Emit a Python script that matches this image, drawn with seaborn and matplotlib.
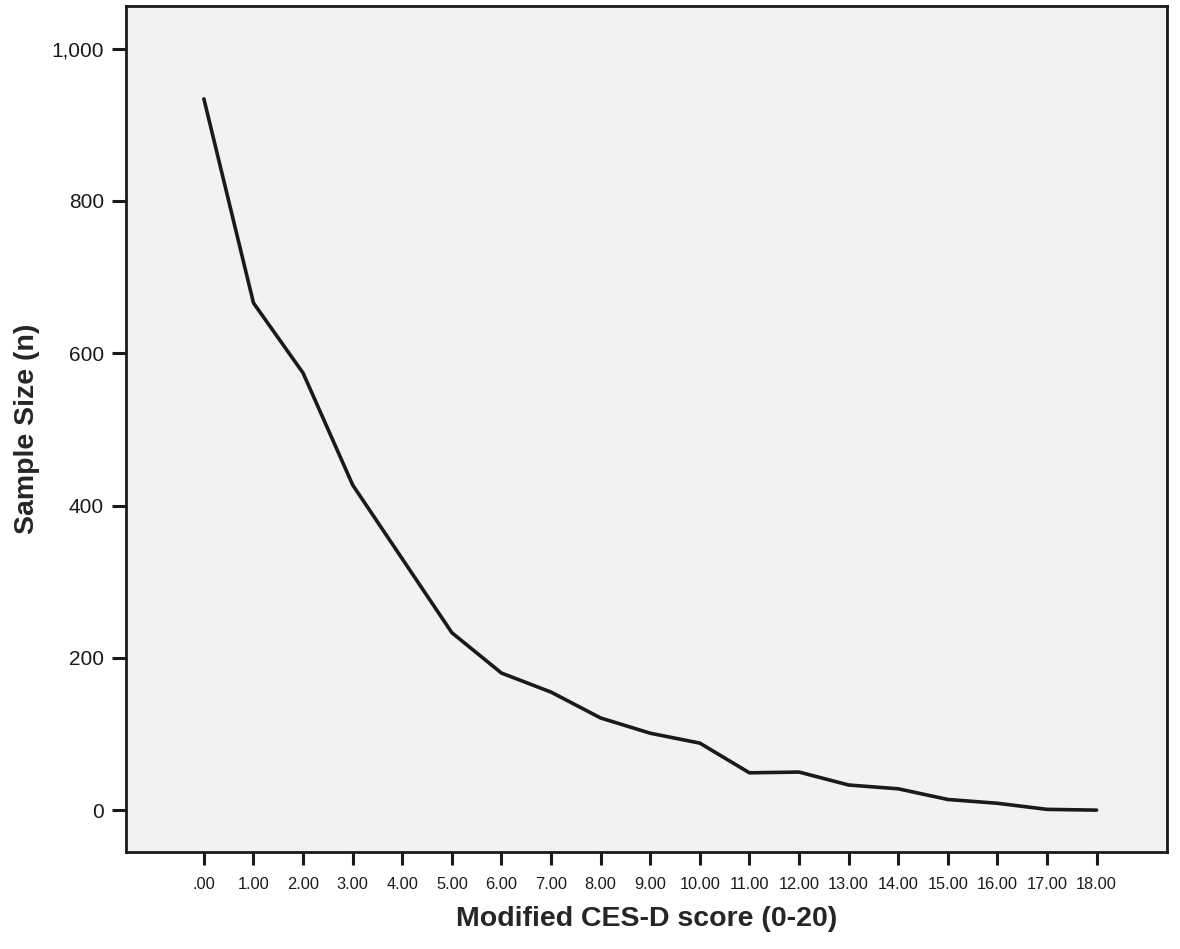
import matplotlib
matplotlib.use("Agg")
import matplotlib.pyplot as plt
import seaborn as sns
import pandas as pd
from matplotlib.ticker import FuncFormatter

# values
scores = [0, 1, 2, 3, 4, 5, 6, 7, 8, 9, 10, 11, 12, 13, 14, 15, 16, 17, 18]
sample_size = [934, 666, 574, 427, 330, 233, 180, 155, 121, 101, 88, 49, 50, 33, 28, 14, 9, 1, 0]
tick_labels = ['.00'] + ['%d.00' % s for s in scores[1:]]

df = pd.DataFrame({'score': scores, 'n': sample_size})

sns.set_style("ticks")
plt.rcParams['font.family'] = ['Liberation Sans', 'DejaVu Sans']

fig = plt.figure(figsize=(11.8, 9.49), dpi=100)
ax = fig.add_axes([0.1068, 0.1022, 0.8822, 0.8915])
ax.set_facecolor('#f2f2f2')

sns.lineplot(data=df, x='score', y='n', color='#1a1a1a', linewidth=2.6, ax=ax)

ax.set_xlim(-1.57, 19.42)
ax.set_ylim(-55, 1056)
ax.set_xticks(scores)
ax.set_xticklabels(tick_labels, fontsize=11.8)
ax.set_yticks([0, 200, 400, 600, 800, 1000])
ax.yaxis.set_major_formatter(FuncFormatter(lambda v, p: '{:,.0f}'.format(v)))
ax.tick_params(axis='y', labelsize=15, length=10, width=2.2, pad=6, colors='#1a1a1a')
ax.tick_params(axis='x', length=9, width=2.2, pad=9, colors='#1a1a1a')

for s in ax.spines.values():
    s.set_linewidth(2)
    s.set_color('#1a1a1a')

ax.set_xlabel('Modified CES-D score (0-20)', fontsize=20.5, fontweight='bold', labelpad=10)
ax.set_ylabel('Sample Size (n)', fontsize=20.5, fontweight='bold', labelpad=8)

fig.savefig('out.png', dpi=100)
